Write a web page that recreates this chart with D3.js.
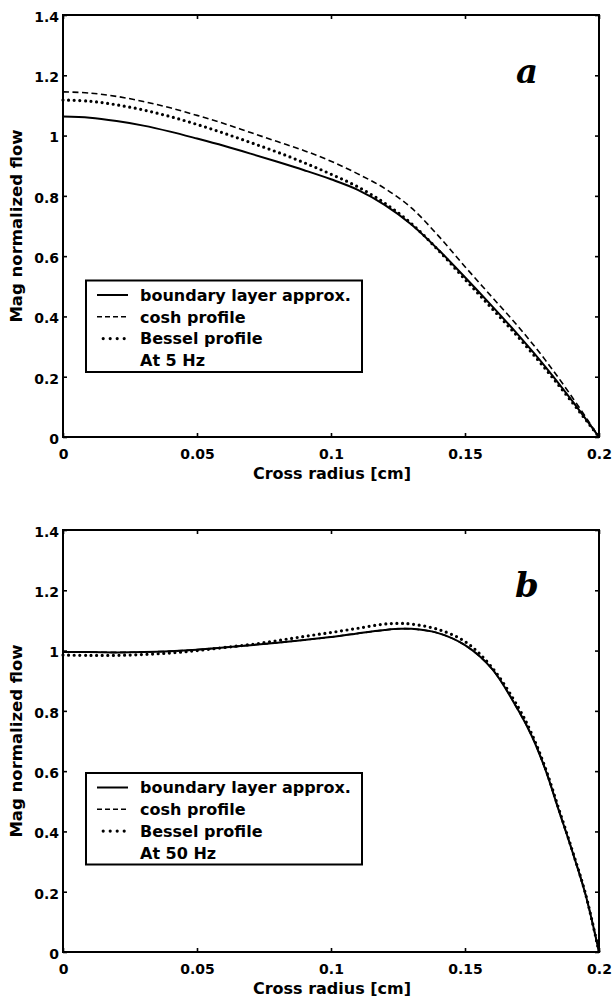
<!DOCTYPE html>
<html>
<head>
<meta charset="utf-8">
<script src="https://cdn.jsdelivr.net/npm/d3@7"></script>
<style>
  html, body { margin: 0; padding: 0; background: #fff; }
  svg { display: block; }
  text { font-family: "DejaVu Sans", sans-serif; font-weight: bold; fill: #000; }
</style>
</head>
<body>
<svg id="chart" width="613" height="998"></svg>
<script>
// ---------- data ----------
const xTicks = [0, 0.05, 0.1, 0.15, 0.2];
const xTickLabels = ["0", "0.05", "0.1", "0.15", "0.2"];
const yTicks = [0, 0.2, 0.4, 0.6, 0.8, 1, 1.2, 1.4];
const yTickLabels = ["0", "0.2", "0.4", "0.6", "0.8", "1", "1.2", "1.4"];
const seriesNames = ["boundary layer approx.", "cosh profile", "Bessel profile"];
const panelLetters = ["a", "b"];
const panelNotes = ["At 5 Hz", "At 50 Hz"];

// panel a (5 Hz)
const radiusA   = [0, 0.01, 0.02, 0.03, 0.04, 0.05, 0.06, 0.07, 0.08, 0.09, 0.10, 0.11, 0.12, 0.13, 0.14, 0.15, 0.16, 0.17, 0.18, 0.19, 0.2];
const boundaryA = [1.063, 1.059, 1.048, 1.033, 1.013, 0.990, 0.966, 0.940, 0.913, 0.885, 0.855, 0.820, 0.770, 0.705, 0.622, 0.530, 0.435, 0.337, 0.233, 0.120, 0];
const coshA     = [1.145, 1.141, 1.130, 1.113, 1.092, 1.067, 1.040, 1.010, 0.980, 0.950, 0.915, 0.873, 0.825, 0.760, 0.668, 0.565, 0.465, 0.365, 0.255, 0.132, 0];
const besselA   = [1.118, 1.114, 1.102, 1.085, 1.063, 1.037, 1.008, 0.977, 0.945, 0.910, 0.872, 0.830, 0.776, 0.708, 0.620, 0.523, 0.427, 0.330, 0.226, 0.115, 0];

// panel b (50 Hz)
const radiusB   = [0, 0.01, 0.02, 0.03, 0.04, 0.05, 0.06, 0.07, 0.08, 0.09, 0.10, 0.11, 0.12, 0.125, 0.13, 0.14, 0.15, 0.16, 0.17, 0.175, 0.18, 0.185, 0.19, 0.195, 0.2];
const boundaryB = [0.995, 0.995, 0.994, 0.995, 0.998, 1.003, 1.010, 1.018, 1.026, 1.035, 1.045, 1.057, 1.068, 1.072, 1.072, 1.058, 1.018, 0.940, 0.800, 0.715, 0.605, 0.470, 0.335, 0.190, 0];
const coshB     = [0.995, 0.995, 0.994, 0.995, 0.998, 1.003, 1.010, 1.018, 1.026, 1.035, 1.045, 1.057, 1.068, 1.072, 1.072, 1.058, 1.018, 0.940, 0.800, 0.715, 0.605, 0.470, 0.335, 0.190, 0];
const besselB   = [0.985, 0.984, 0.984, 0.987, 0.992, 1.000, 1.010, 1.020, 1.033, 1.047, 1.060, 1.074, 1.088, 1.090, 1.088, 1.070, 1.030, 0.945, 0.810, 0.722, 0.610, 0.475, 0.338, 0.192, 0];

const panels = [
  { top: 15,  radius: radiusA, series: [boundaryA, coshA, besselA], letter: panelLetters[0], note: panelNotes[0],
    legendTop: 280.5 },
  { top: 530, radius: radiusB, series: [boundaryB, coshB, besselB], letter: panelLetters[1], note: panelNotes[1],
    legendTop: 773 }
];

// ---------- drawing ----------
const svg = d3.select("#chart");
const left = 63, right = 599, plotH = 422;

const styles = [
  { width: 2.0, dash: null, cap: "butt" },
  { width: 1.6, dash: "6,3.5", cap: "butt" },
  { width: 3.2, dash: "0,5.6", cap: "round" }
];

panels.forEach(p => {
  const g = svg.append("g");
  const x = d3.scaleLinear().domain([0, 0.2]).range([left, right]);
  const y = d3.scaleLinear().domain([0, 1.4]).range([p.top + plotH, p.top]);

  // series
  p.series.forEach((vals, si) => {
    const pts = p.radius.map((r, i) => [r, vals[i]]);
    const line = d3.line().x(d => x(d[0])).y(d => y(d[1])).curve(d3.curveCatmullRom.alpha(0.5));
    const s = styles[si];
    g.append("path")
      .attr("d", line(pts))
      .attr("fill", "none")
      .attr("stroke", "#000")
      .attr("stroke-width", s.width)
      .attr("stroke-linecap", s.cap)
      .attr("stroke-linejoin", "round")
      .attr("stroke-dasharray", s.dash);
  });

  // axes (ticks inward)
  const fmtX = (d, i) => xTickLabels[i];
  const fmtY = (d, i) => yTickLabels[i];
  const bottomAxis = g.append("g").attr("transform", `translate(0,${p.top + plotH})`)
    .call(d3.axisBottom(x).tickValues(xTicks).tickFormat(fmtX).tickSizeInner(-4).tickSizeOuter(0).tickPadding(12));
  const leftAxis = g.append("g").attr("transform", `translate(${left},0)`)
    .call(d3.axisLeft(y).tickValues(yTicks).tickFormat(fmtY).tickSizeInner(-4).tickSizeOuter(0).tickPadding(4));
  const topAxis = g.append("g").attr("transform", `translate(0,${p.top})`)
    .call(d3.axisTop(x).tickValues(xTicks).tickFormat("").tickSizeInner(-4).tickSizeOuter(0));
  const rightAxis = g.append("g").attr("transform", `translate(${right},0)`)
    .call(d3.axisRight(y).tickValues(yTicks).tickFormat("").tickSizeInner(-4).tickSizeOuter(0));
  [bottomAxis, leftAxis, topAxis, rightAxis].forEach(a => {
    a.select(".domain").remove();
    a.selectAll("line").attr("stroke", "#000").attr("stroke-width", 1.6);
    a.selectAll("text").style("font-family", "DejaVu Sans, sans-serif").style("font-weight", "bold")
      .style("font-size", "14px").attr("fill", "#000");
  });
  leftAxis.selectAll("text").attr("dy", "0.45em");
  bottomAxis.selectAll("text").attr("dy", "0.71em");

  // frame
  g.append("rect").attr("x", left).attr("y", p.top).attr("width", right - left).attr("height", plotH)
    .attr("fill", "none").attr("stroke", "#000").attr("stroke-width", 2);

  // axis titles
  g.append("text").attr("x", 332).attr("y", p.top + plotH + 41.5).attr("text-anchor", "middle")
    .style("font-size", "16px").text("Cross radius [cm]");
  g.append("text").attr("transform", `translate(22,${p.top + plotH / 2}) rotate(-90)`)
    .attr("text-anchor", "middle").style("font-size", "16.5px").text("Mag normalized flow");

  // panel letter
  g.append("text").attr("x", 527).attr("y", p.top + (p.letter === "a" ? 68 : 67)).attr("text-anchor", "middle")
    .style("font-family", "DejaVu Serif, serif").style("font-style", "italic").style("font-weight", "bold")
    .style("font-size", "34px").text(p.letter);

  // legend
  const lg = g.append("g");
  lg.append("rect").attr("x", 86).attr("y", p.legendTop).attr("width", 276).attr("height", 91.5)
    .attr("fill", "#fff").attr("stroke", "#000").attr("stroke-width", 2);
  const rowY = i => p.legendTop + 14.5 + i * 21.8;
  const lx = d3.scaleLinear().domain([0, 1]).range([97, 128]);
  const sampleStyles = [
    { width: 2.0, dash: null, cap: "butt", r: [0, 1] },
    { width: 1.6, dash: "5,3", cap: "butt", r: [0, 1] },
    { width: 3.2, dash: "0,7", cap: "round", r: [0.2, 0.9] }
  ];
  seriesNames.forEach((name, i) => {
    const s = sampleStyles[i];
    lg.append("line").attr("x1", lx(s.r[0])).attr("x2", lx(s.r[1]))
      .attr("y1", rowY(i)).attr("y2", rowY(i))
      .attr("stroke", "#000").attr("stroke-width", s.width).attr("stroke-linecap", s.cap)
      .attr("stroke-dasharray", s.dash);
    lg.append("text").attr("x", 140).attr("y", rowY(i)).attr("dy", "0.36em")
      .style("font-size", "16px").text(name);
  });
  lg.append("text").attr("x", 140).attr("y", rowY(3)).attr("dy", "0.36em")
    .style("font-size", "16px").text(p.note);
});
</script>
</body>
</html>
